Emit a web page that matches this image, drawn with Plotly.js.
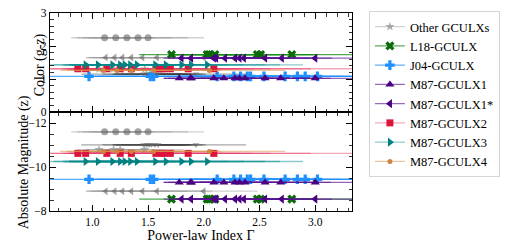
<!DOCTYPE html>
<html><head><meta charset="utf-8">
<script src="https://cdn.plot.ly/plotly-3.0.1.min.js"></script>
<style>html,body{margin:0;padding:0;background:#fff}#chart{width:519px;height:249px}</style>
</head><body><div id="chart"></div>
<script>
// ---------------- data ----------------
// Other GCULXs (several sources, all grey)
const gammaOtherCirc = [1.11, 1.21, 1.31, 1.41, 1.50];
const errOtherCirc   = [0.30, 0.35, 0.40, 0.45, 0.50];
const colorOtherCirc = 2.25, magOtherCirc = -11.60;

const gammaOtherLeft = [1.12, 1.20, 1.27, 1.35, 1.45, 1.58, 2.00];
const errOtherLeft   = [0.18, 0.25, 0.30, 0.35, 0.40, 0.50, 0.48];
const colorOtherLeft = 1.65, magOtherLeft = -8.90;

const gammaOtherDown = [1.46, 1.49, 1.51, 1.53, 1.56, 1.59, 1.93];
const errOtherDown   = [0.56, 0.40, 0.30, 0.35, 0.30, 0.40, 0.45];
const colorOtherDown = 1.15, magOtherDown = -11.01;

const gammaOtherStar = [1.06, 1.19, 1.25, 1.47];
const errOtherStar   = [0.20, 0.25, 0.30, 0.35];
const colorOtherStar = 1.30, magOtherStar = -10.79;

// L18-GCULX
const gammaL18 = [1.71, 2.03, 2.05, 2.10, 2.48, 2.51, 2.79];
const errL18   = [0.29, 0.30, 0.35, 0.40, 0.50, 0.50, 0.60];
const colorL18 = 1.74, magL18 = -8.54;

// J04-GCULX
const gammaJ04 = [0.97, 1.52, 1.55, 2.12, 2.27, 2.33, 2.39, 2.42, 2.54, 2.73, 2.84, 2.91, 3.02];
const errJ04   = [0.45, 0.50, 0.50, 0.50, 0.50, 0.50, 0.50, 0.50, 0.50, 0.50, 0.50, 0.50, 0.50];
const colorJ04 = 1.08, magJ04 = -9.44;

// M87-GCULX1
const gammaM1 = [1.78, 1.88, 1.89, 2.09, 2.18, 2.28, 2.32, 2.37, 2.55, 2.69, 3.00];
const errM1   = [0.14, 0.20, 0.25, 0.30, 0.30, 0.35, 0.35, 0.40, 0.40, 0.45, 0.50];
const colorM1 = 1.02, magM1 = -9.30;

// M87-GCULX1*
const gammaM1s = [1.80, 1.885, 2.09, 2.11, 2.19, 2.28, 2.32, 2.36, 2.55, 2.70, 3.00];
const errM1s   = [0.16, 0.20, 0.30, 0.30, 0.30, 0.35, 0.35, 0.40, 0.40, 0.45, 0.50];
const colorM1s = 1.63, magM1s = -8.54;

// M87-GCULX2
const gammaM2 = [0.87, 0.94, 1.13, 1.25, 1.35, 1.57, 1.62, 1.64, 1.70, 1.86, 2.09];
const errM2   = [0.30, 0.35, 0.40, 0.45, 0.50, 0.60, 0.70, 0.80, 0.90, 1.10, 1.30];
const colorM2 = 1.31, magM2 = -10.62;

// M87-GCULX3
const gammaM3 = [0.94, 1.05, 1.18, 1.25, 1.29, 1.34, 1.40, 1.565, 1.66, 1.80, 1.885, 2.03];
const errM3   = [0.35, 0.40, 0.45, 0.50, 0.50, 0.55, 0.60, 0.65, 0.70, 0.75, 0.80, 0.86];
const colorM3 = 1.43, magM3 = -10.25;

// M87-GCULX4
const gammaM4 = [1.10, 1.22, 1.35, 1.55, 2.05];
const errM4   = [0.39, 0.45, 0.50, 0.60, 0.68];
const colorM4 = 1.26, magM4 = -10.71;

const axisTickLabelsX = ['1.0', '1.5', '2.0', '2.5', '3.0'];

// ---------------- styles ----------------
const SERIF = '"Liberation Serif", "DejaVu Serif", serif';
const GREYM = 'rgba(100,100,100,0.6)', GREYL = 'rgba(150,150,150,0.45)';
const series = [
  {name:'Other GCULXs', g:gammaOtherCirc, e:errOtherCirc, c:colorOtherCirc, m:magOtherCirc, sym:'circle', size:7, mc:GREYM, lc:GREYL, leg:false, grp:'other'},
  {name:'Other GCULXs', g:gammaOtherLeft, e:errOtherLeft, c:colorOtherLeft, m:magOtherLeft, sym:'triangle-left', size:7, mc:GREYM, lc:GREYL, leg:false, grp:'other'},
  {name:'Other GCULXs', g:gammaOtherDown, e:errOtherDown, c:colorOtherDown, m:magOtherDown, sym:'triangle-down', size:6, mc:GREYM, lc:'rgba(60,60,60,0.45)', leg:false, grp:'other'},
  {name:'Other GCULXs', g:gammaOtherStar, e:errOtherStar, c:colorOtherStar, m:magOtherStar, sym:'star', size:7, mc:'rgba(140,140,140,0.7)', lc:GREYL, leg:true, grp:'other'},
  {name:'L18-GCULX', g:gammaL18, e:errL18, c:colorL18, m:magL18, sym:'x', size:8, mc:'#0a6a0a', lc:'rgba(20,140,20,0.75)', leg:true, grp:'l18'},
  {name:'J04-GCULX', g:gammaJ04, e:errJ04, c:colorJ04, m:magJ04, sym:'cross', size:8, mc:'#1e90ff', lc:'rgba(30,144,255,0.75)', leg:true, grp:'j04'},
  {name:'M87-GCULX1', g:gammaM1, e:errM1, c:colorM1, m:magM1, sym:'triangle-up', size:8, mc:'#4b0082', lc:'rgba(90,20,150,0.65)', leg:true, grp:'m1'},
  {name:'M87-GCULX1*', g:gammaM1s, e:errM1s, c:colorM1s, m:magM1s, sym:'triangle-left', size:8, mc:'#4b0082', lc:'rgba(90,20,150,0.65)', leg:true, grp:'m1s'},
  {name:'M87-GCULX2', g:gammaM2, e:errM2, c:colorM2, m:magM2, sym:'square', size:7, mc:'#dc143c', lc:'rgba(230,60,100,0.45)', leg:true, grp:'m2'},
  {name:'M87-GCULX3', g:gammaM3, e:errM3, c:colorM3, m:magM3, sym:'triangle-right', size:8, mc:'#008080', lc:'rgba(0,140,140,0.45)', leg:true, grp:'m3'},
  {name:'M87-GCULX4', g:gammaM4, e:errM4, c:colorM4, m:magM4, sym:'circle', size:5, mc:'#cd853f', lc:'rgba(215,140,70,0.5)', leg:true, grp:'m4'}
];

const traces = [];
series.forEach(s => {
  [['x','y',s.c], ['x2','y2',s.m]].forEach(([xa, ya, val], k) => {
    traces.push({
      type:'scatter', mode:'lines+markers', name:s.name, legendgroup:s.grp,
      showlegend: s.leg && k === 0,
      x: s.g, y: s.g.map(() => val), xaxis:xa, yaxis:ya,
      line:{color:s.lc, width:1.2},
      marker:{symbol:s.sym, size:s.size, color:s.mc, line:{width:0}},
      error_x:{type:'data', array:s.e, visible:true, width:0, thickness:1.3, color:s.lc},
      hoverinfo:'skip'
    });
  });
});

const ax = {
  showline:true, linecolor:'#000', linewidth:1.3, mirror:'allticks',
  ticks:'inside', ticklen:6, tickwidth:1, tickcolor:'#000',
  showgrid:false, zeroline:false, tickfont:{size:11.5, family:SERIF}
};
const minorT = d => ({dtick:d, ticks:'inside', ticklen:3.5, tickwidth:0.8, tickcolor:'#000', showgrid:false});

const layout = {
  width:519, height:249,
  margin:{l:50, r:167, t:12, b:38},
  paper_bgcolor:'#fff', plot_bgcolor:'#fff',
  font:{family:SERIF, size:14, color:'#000'},
  showlegend:true,
  xaxis:Object.assign({}, ax, {anchor:'y', domain:[0,1], range:[0.62,3.33], tick0:0, dtick:0.5,
        showticklabels:false, minor:minorT(0.1)}),
  xaxis2:Object.assign({}, ax, {anchor:'y2', domain:[0,1], range:[0.62,3.33], matches:'x',
        tickmode:'array', tickvals:axisTickLabelsX.map(Number), ticktext:axisTickLabelsX,
        minor:minorT(0.1), title:{text:'Power-law Index Γ', font:{size:14, family:SERIF}, standoff:1}}),
  yaxis:Object.assign({}, ax, {anchor:'x', domain:[0.5,1], range:[0,3], tick0:0, dtick:1,
        minor:minorT(0.2)}),
  yaxis2:Object.assign({}, ax, {anchor:'x2', domain:[0,0.5], range:[-8,-12.5], tick0:0, dtick:2,
        minor:minorT(0.5)}),
  annotations:[
    {text:'Color (g-z)', xref:'paper', yref:'paper', x:-0.033, y:0.736, textangle:-90,
     showarrow:false, xanchor:'center', yanchor:'middle', font:{size:14, family:SERIF}},
    {text:'Absolute Magnitude (z)', xref:'paper', yref:'paper', x:-0.086, y:0.246, textangle:-90,
     showarrow:false, xanchor:'center', yanchor:'middle', font:{size:14, family:SERIF}}
  ],
  legend:{x:1.056, xanchor:'left', y:1.005, yanchor:'top', bgcolor:'#fff',
          bordercolor:'#d5d5d5', borderwidth:1, font:{size:12.5, family:SERIF},
          traceorder:'normal', itemwidth:30, tracegroupgap:0, maxheight:240}
};

Plotly.newPlot('chart', traces, layout, {staticPlot:true, displayModeBar:false});
</script></body></html>
